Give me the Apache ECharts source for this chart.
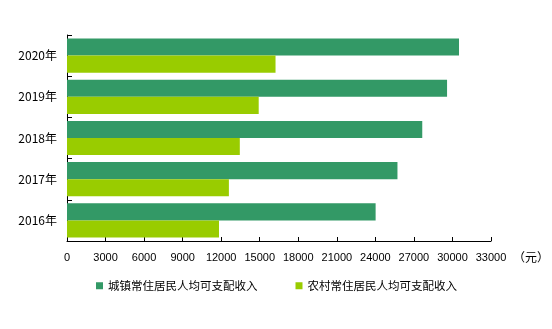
<!DOCTYPE html>
<html>
<head>
<meta charset="utf-8">
<style>
  html, body { margin: 0; padding: 0; background: #fff; }
  #chart { width: 552px; height: 329px; }
</style>
<script src="https://cdn.jsdelivr.net/npm/echarts@6/dist/echarts.min.js"></script>
</head>
<body>
<div id="chart"></div>
<script>
// 城镇与农村常住居民人均可支配收入（元）
const years = ['2020年', '2019年', '2018年', '2017年', '2016年'];
const urbanIncome = [30510, 29580, 27650, 25720, 24020];
const ruralIncome = [16230, 14920, 13450, 12600, 11830];
const seriesNames = ['城镇常住居民人均可支配收入', '农村常住居民人均可支配收入'];
const axisMax = 33000;
const axisStep = 3000;

const chart = echarts.init(document.getElementById('chart'), null, { renderer: 'canvas' });

const labelFont = '"Liberation Sans", Arial, "Noto Sans CJK SC", sans-serif';
const cjkFont = '"Noto Sans CJK SC", sans-serif';

chart.setOption({
  animation: false,
  backgroundColor: '#ffffff',
  color: ['#339966', '#99cc00'],
  grid: { left: 67, right: 57, top: 35, bottom: 88, containLabel: false },
  legend: {
    data: seriesNames,
    left: 91,
    top: 275,
    itemWidth: 7,
    itemHeight: 7,
    itemGap: 38,
    icon: 'rect',
    textStyle: { fontSize: 11.5, color: '#000', fontFamily: cjkFont }
  },
  xAxis: {
    type: 'value',
    min: 0,
    max: axisMax,
    interval: axisStep,
    name: '（元）',
    nameLocation: 'end',
    nameGap: 22,
    nameTextStyle: {
      fontSize: 12, color: '#000', verticalAlign: 'top',
      padding: [10, 0, 0, 0], fontFamily: cjkFont
    },
    axisLine: { show: true, lineStyle: { color: '#000', width: 1 } },
    axisTick: { show: true, inside: true, length: 4, lineStyle: { color: '#000' } },
    axisLabel: {
      fontSize: 11, color: '#000', margin: 11, fontFamily: labelFont,
      formatter: (v) => String(v)
    },
    splitLine: { show: false }
  },
  yAxis: {
    type: 'category',
    data: years,
    inverse: true,
    axisLine: { show: true, lineStyle: { color: '#000', width: 1 } },
    axisTick: { show: true, inside: true, length: 5, lineStyle: { color: '#000' } },
    axisLabel: { fontSize: 12, color: '#000', margin: 10, fontFamily: cjkFont },
    splitLine: { show: false }
  },
  series: [
    {
      name: seriesNames[0],
      type: 'bar',
      data: urbanIncome,
      barGap: '0%',
      barCategoryGap: '17%'
    },
    {
      name: seriesNames[1],
      type: 'bar',
      data: ruralIncome,
      barGap: '0%',
      barCategoryGap: '17%'
    }
  ]
});
</script>
</body>
</html>
